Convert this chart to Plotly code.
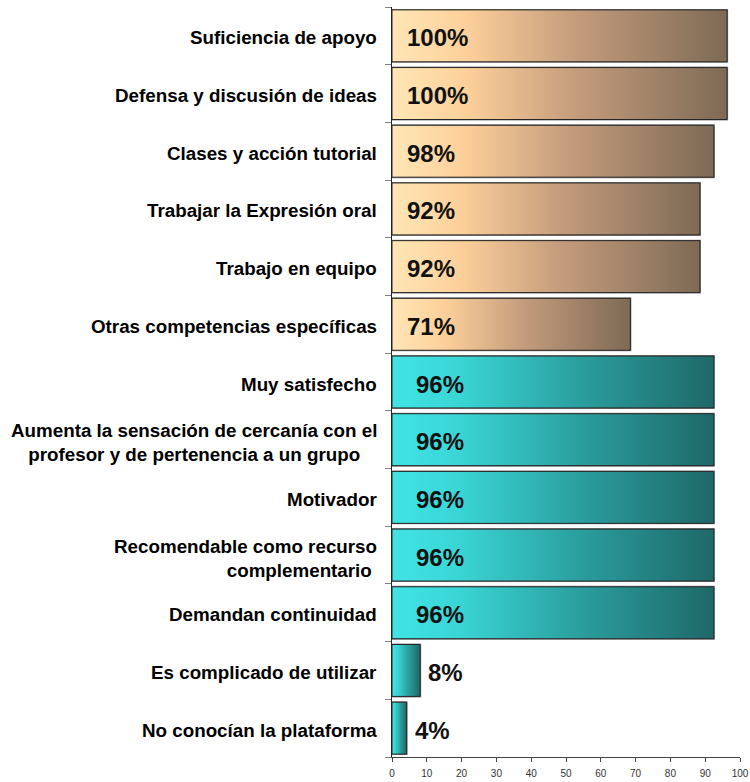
import plotly.graph_objects as go

categories = [
    "Suficiencia de apoyo",
    "Defensa y discusión de ideas",
    "Clases y acción tutorial",
    "Trabajar la Expresión oral",
    "Trabajo en equipo",
    "Otras competencias específicas",
    "Muy satisfecho",
    "Aumenta la sensación de cercanía con el<br>profesor y de pertenencia a un grupo",
    "Motivador",
    "Recomendable como recurso<br>complementario ",
    "Demandan continuidad",
    "Es complicado de utilizar",
    "No conocían la plataforma",
]
label_pct = [100, 100, 98, 92, 92, 71, 96, 96, 96, 96, 96, 8, 4]
bar_len = [96.3, 96.3, 92.5, 88.5, 88.5, 68.5, 92.5, 92.5, 92.5, 92.5, 92.5, 8.1, 4.2]
group = ["beige"] * 6 + ["teal"] * 7

scales = {
    "beige": [[0, "#FFE6B6"], [0.22, "#FDD09A"], [0.55, "#C49C7C"], [1, "#7E6A55"]],
    "teal": [[0, "#40E4E4"], [0.2, "#3AD6D6"], [0.6, "#2A9C9C"], [1, "#1F6868"]],
}
label_shift = {"beige": 13, "teal": 22}
align_override = {9: "right"}

fig = go.Figure()
half = 0.45
for i, (L, g) in enumerate(zip(bar_len, group)):
    # soft shadow
    fig.add_trace(go.Scatter(
        x=[0, L, L, 0, 0],
        y=[i - half, i - half, i + half, i + half, i - half],
        mode="lines", fill="toself", fillcolor="rgba(0,0,0,0)",
        line=dict(color="#8a8a8a", width=2), hoverinfo="skip", showlegend=False,
    ))
    fig.add_trace(go.Scatter(
        x=[0, L, L, 0, 0],
        y=[i - half, i - half, i + half, i + half, i - half],
        mode="lines", fill="toself",
        fillgradient=dict(type="horizontal", colorscale=scales[g]),
        line=dict(color="#262626", width=1),
        hoverinfo="skip", showlegend=False,
    ))

annotations = []
for i, (cat, pct, L, g) in enumerate(zip(categories, label_pct, bar_len, group)):
    annotations.append(dict(
        x=0, y=i, xref="paper", yref="y", xanchor="right", yanchor="middle",
        xshift=-13, yshift=-2 if "<br>" not in cat else -3,
        text=f"<b>{cat}</b>", showarrow=False,
        align=align_override.get(i, "center"),
        font=dict(family="Liberation Sans, Arial", size=18.8, color="#000000"),
    ))
    if L < 15:
        ax, shift = L, 6
    else:
        ax, shift = 0, label_shift[g]
    annotations.append(dict(
        x=ax, y=i, xref="x", yref="y", xanchor="left", yanchor="middle",
        xshift=shift, yshift=-2, text=f"<b>{pct}%</b>", showarrow=False,
        font=dict(family="Liberation Sans, Arial", size=24, color="#111111"),
    ))

n = len(categories)
fig.update_layout(
    width=750, height=782,
    margin=dict(l=392, r=10, t=7, b=25, autoexpand=False),
    paper_bgcolor="white", plot_bgcolor="white",
    annotations=annotations,
    xaxis=dict(
        range=[0, 100], tickvals=list(range(0, 101, 10)),
        showgrid=False, zeroline=False, showline=True, linecolor="#444444", linewidth=1,
        ticks="outside", ticklen=4, tickcolor="#444444", ticklabelstandoff=3,
        automargin=False,
        tickfont=dict(family="Liberation Sans, Arial", size=10, color="#333333"),
    ),
    yaxis=dict(
        range=[n - 0.5, -0.5], automargin=False,
        tickvals=[k - 0.5 for k in range(n + 1)], showticklabels=False,
        showgrid=False, zeroline=False, showline=True, linecolor="#222222", linewidth=1,
        ticks="outside", ticklen=6, tickcolor="#808080",
    ),
)

fig.write_html("out.html")
